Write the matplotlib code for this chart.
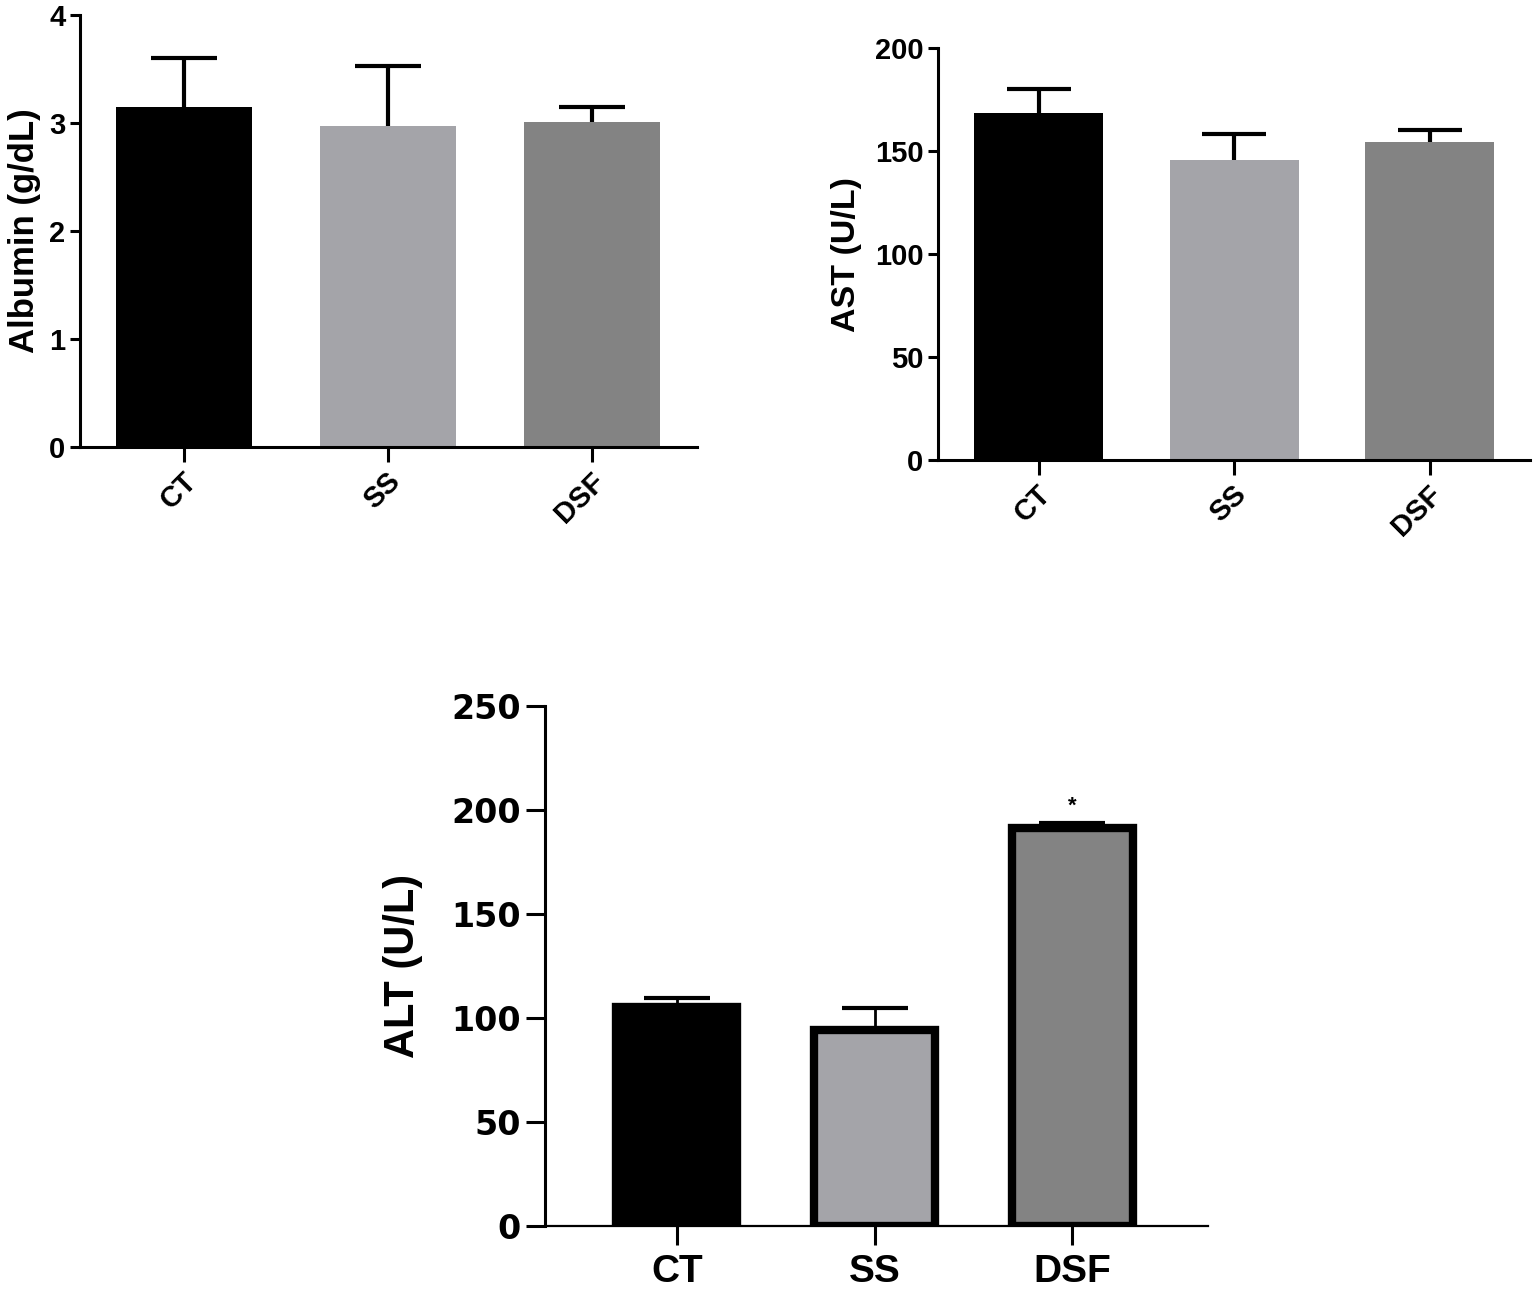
import numpy as np
import matplotlib.pyplot as plt
import matplotlib.transforms as mtransforms

# data
groups = ['CT', 'SS', 'DSF']
colors = ['#000000', '#a4a4a9', '#838383']

albumin = [3.15, 2.97, 3.01]
albumin_err = [0.45, 0.56, 0.14]

ast = [168.4, 145.7, 154.2]
ast_err = [11.7, 12.7, 6.1]

alt = [105.3, 94.2, 191.3]
alt_err = [4.2, 10.4, 2.5]

plt.rcParams['font.family'] = ['Liberation Sans', 'DejaVu Sans']
plt.rcParams['font.weight'] = 'bold'

W, H = 1535, 1289
fig = plt.figure(figsize=(W / 100, H / 100), dpi=100)


def px_axes(l, t, r, b):
    return fig.add_axes([l / W, 1 - b / H, (r - l) / W, (b - t) / H])


def style(ax, lw, ylen, xlen):
    for s in ['top', 'right']:
        ax.spines[s].set_visible(False)
    for s in ['left', 'bottom']:
        ax.spines[s].set_linewidth(lw)
    ax.tick_params(axis='y', width=lw, length=ylen, direction='out')
    ax.tick_params(axis='x', width=lw, length=xlen, direction='out')


def upper_err(ax, vals, errs, lw, cap, capw):
    # only the upper half of the error bar, like the original
    eb = ax.errorbar(x, vals, yerr=[np.zeros(len(vals)), errs], fmt='none',
                     ecolor='black', elinewidth=lw, capsize=cap,
                     capthick=capw, zorder=1)
    caps = eb[1]
    caps[0].set_visible(False)
    return eb


def rotated_labels(ax, size):
    ax.set_xticks(x)
    ax.set_xticklabels(groups, rotation=45, ha='right', va='center',
                       rotation_mode='anchor', fontsize=size,
                       fontweight='bold')
    off = mtransforms.ScaledTranslation(8 / 100, -10 / 100, fig.dpi_scale_trans)
    for t in ax.get_xticklabels():
        t.set_transform(t.get_transform() + off)


x = np.arange(len(groups))

# top left: albumin
ax1 = px_axes(80, 15, 697, 447)
ax1.bar(x, albumin, width=0.665, color=colors, zorder=2)
upper_err(ax1, albumin, albumin_err, 3, 24, 3)
ax1.set_xlim(-0.51, 2.513)
ax1.set_ylim(0, 4)
ax1.set_yticks([0, 1, 2, 3, 4])
ax1.set_ylabel('Albumin (g/dL)', fontsize=25, fontweight='bold', labelpad=6)
style(ax1, 2.2, 7, 11)
rotated_labels(ax1, 21)
for t in ax1.get_yticklabels():
    t.set_fontsize(21)
    t.set_fontweight('bold')

# top right: AST
ax2 = px_axes(938, 48, 1530, 460)
ax2.bar(x, ast, width=0.66, color=colors, zorder=2)
upper_err(ax2, ast, ast_err, 3, 23, 3)
ax2.set_xlim(-0.516, 2.513)
ax2.set_ylim(0, 200)
ax2.set_yticks([0, 50, 100, 150, 200])
ax2.set_ylabel('AST (U/L)', fontsize=24.5, fontweight='bold', labelpad=9)
style(ax2, 2.2, 7, 11)
rotated_labels(ax2, 21)
for t in ax2.get_yticklabels():
    t.set_fontsize(21)
    t.set_fontweight('bold')

# bottom: ALT
ax3 = px_axes(545, 706, 1208, 1226)
ax3.bar(x, alt, width=0.61, color=colors, edgecolor='black', linewidth=6,
        zorder=2)
upper_err(ax3, alt, alt_err, 2, 24, 3)
ax3.text(2, alt[2] + alt_err[2] + 8, '*', ha='center', va='center',
         fontsize=16, fontweight='bold')
ax3.set_xlim(-0.666, 2.685)
ax3.set_ylim(0, 250)
ax3.set_yticks([0, 50, 100, 150, 200, 250])
ax3.set_ylabel('ALT (U/L)', fontsize=30, fontweight='bold', labelpad=20)
style(ax3, 2.2, 14, 14)
ax3.tick_params(axis='x', pad=6)
ax3.set_xticks(x)
ax3.set_xticklabels(groups, fontsize=28, fontweight='bold')
for t in ax3.get_yticklabels():
    t.set_fontsize(24)
    t.set_fontweight('bold')
    t.set_family('DejaVu Sans')
ax3.spines['bottom'].set_linewidth(1.6)

fig.savefig('out.png', dpi=100)
